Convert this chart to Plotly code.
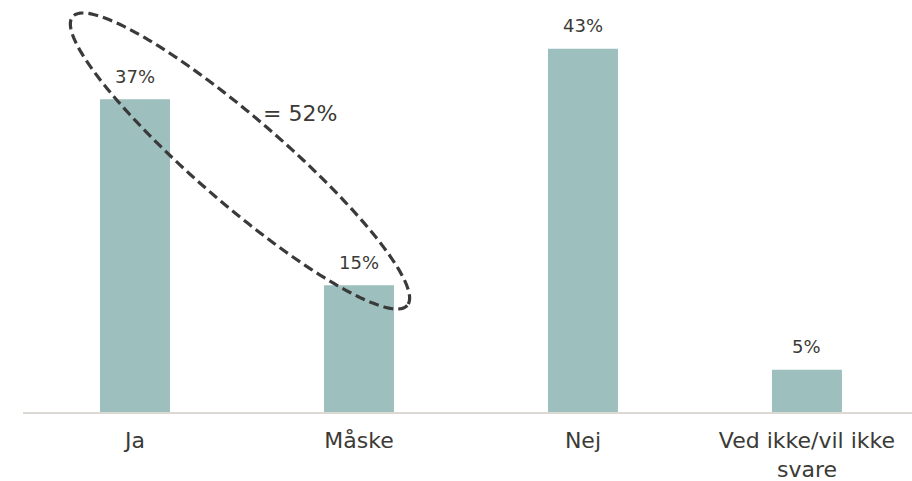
import numpy as np
import plotly.graph_objects as go

# Survey answers and their shares (%)
categories = ["Ja", "Måske", "Nej", "Ved ikke/vil ikke<br>svare"]
shares = [37, 15, 43, 5]

BAR_COLOR = "#9dbfbe"
TEXT_COLOR = "#3b3a36"
FONT = "'DejaVu Sans', sans-serif"

W, H = 912, 481
M_L, M_R, M_T, M_B = 23, 0, 0, 69
X_RANGE = [-0.5, 3.469]
Y_RANGE = [0, 48.76]

plot_w = W - M_L - M_R
plot_h = H - M_T - M_B
px_per_x = plot_w / (X_RANGE[1] - X_RANGE[0])
px_per_y = plot_h / (Y_RANGE[1] - Y_RANGE[0])

x = list(range(len(categories)))

fig = go.Figure(
    go.Bar(
        x=x,
        y=shares,
        marker=dict(color=BAR_COLOR, line=dict(width=0)),
        width=0.3125,
        hoverinfo="skip",
    )
)

# Value labels above each bar
for xi, v in zip(x, shares):
    fig.add_annotation(
        x=xi, y=v, text=f"{v}%", showarrow=False, yshift=23,
        font=dict(size=18, color=TEXT_COLOR, family=FONT),
    )

# Dashed ellipse grouping "Ja" and "Måske" (drawn in pixel space, converted to data units)
cx_px, cy_px = 105.0, 251.0       # centre offset from first bar centre / baseline, px
a_px, b_px = 221.0, 43.0          # semi-axes, px
ang = np.deg2rad(40.8)
t = np.linspace(0, 2 * np.pi, 200)
ex = cx_px + a_px * np.cos(t) * np.cos(ang) - b_px * np.sin(t) * np.sin(ang)
ey = cy_px - (a_px * np.cos(t) * np.sin(ang) + b_px * np.sin(t) * np.cos(ang))
dx = x[0] + ex / px_per_x
dy = ey / px_per_y
path = "M " + " L ".join(f"{a:.4f},{b:.4f}" for a, b in zip(dx, dy)) + " Z"
fig.add_shape(
    type="path", path=path, xref="x", yref="y",
    line=dict(color="#3a3a3a", width=3.2, dash="10px,5px"),
)

combined = shares[0] + shares[1]
fig.add_annotation(
    x=x[0] + 165 / px_per_x, y=299 / px_per_y, text=f"= {combined}%",
    showarrow=False, font=dict(size=22, color=TEXT_COLOR, family=FONT),
)

fig.update_layout(
    width=W, height=H,
    margin=dict(l=M_L, r=M_R, t=M_T, b=M_B, autoexpand=False),
    paper_bgcolor="white", plot_bgcolor="white",
    showlegend=False,
    font=dict(family=FONT, color=TEXT_COLOR),
    xaxis=dict(
        range=X_RANGE, tickvals=x, ticktext=categories,
        showgrid=False, zeroline=False, showline=True, automargin=False,
        linecolor="#dcd8d3", linewidth=2, ticks="",
        tickfont=dict(size=22, color=TEXT_COLOR, family=FONT),
        ticklabelstandoff=8,
    ),
    yaxis=dict(range=Y_RANGE, visible=False, showgrid=False, zeroline=False),
)

fig.write_html("out.html")
